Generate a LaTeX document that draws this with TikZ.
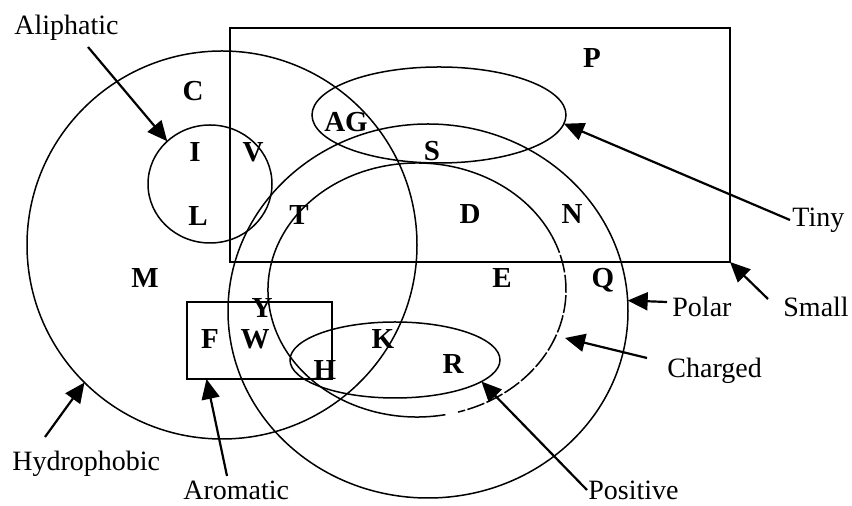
\documentclass[tikz,border=0pt]{standalone}
\usepackage{fontspec}
\setmainfont{Liberation Serif}
\usetikzlibrary{shapes.geometric,arrows.meta}
\begin{document}
\begin{tikzpicture}[x=0.5pt,y=-0.5pt,
  shapeline/.style={draw, line width=0.75pt, inner sep=0pt, outer sep=0pt},
  oval/.style={shapeline, ellipse},
  box/.style={shapeline, rectangle},
  letter/.style={font=\fontsize{14.5}{16}\selectfont\bfseries, inner sep=0pt},
  labeltext/.style={font=\fontsize{14}{16}\selectfont, inner sep=0pt, anchor=base west},
  pointer/.style={line width=1.1pt, -{Triangle[length=10pt,width=9pt]}}]
\useasboundingbox (0,0) rectangle (852,506);

% sets
\node[box, minimum width=250pt, minimum height=117pt] (small) at (480,145) {};
\node[box, minimum width=72.5pt, minimum height=38.5pt] (aro) at (259.5,340.5) {};
\node[oval, minimum width=195pt, minimum height=194pt] (hyd) at (222,245) {};
\node[oval, minimum width=62pt, minimum height=59pt] (aliph) at (210,184) {};
\node[oval, minimum width=127pt, minimum height=48pt] (tiny) at (439,115) {};
\node[oval, minimum width=200pt, minimum height=187pt] (polar) at (428,311) {};
\node[oval, draw=none, minimum width=149pt, minimum height=127pt] (charged) at (417,290) {};
\node[oval, minimum width=105pt, minimum height=38pt] (pos) at (395,360) {};

% charged outline: solid part, dashed lower right, small gap at bottom
\draw[line width=0.75pt] (charged.center) ++(79:149 and 127) arc[start angle=79, end angle=335, x radius=149, y radius=127];
\draw[line width=0.75pt, dash pattern=on 9pt off 1.2pt] (charged.center) ++(-25:149 and 127) arc[start angle=-25, end angle=74, x radius=149, y radius=127];

% letters
\node[letter] (lC) at (193,91) {C};
\node[letter] (lI) at (195,152) {I};
\node[letter] (lV) at (253,152) {V};
\node[letter] (lL) at (198,216) {L};
\node[letter] (lAG) at (346,122) {AG};
\node[letter] (lS) at (432,151) {S};
\node[letter] (lP) at (592,58) {P};
\node[letter] (lT) at (299,215) {T};
\node[letter] (lD) at (470,214) {D};
\node[letter] (lN) at (572,214) {N};
\node[letter] (lM) at (145,278) {M};
\node[letter] (lE) at (502,278) {E};
\node[letter] (lQ) at (603,280) {Q};
\node[letter] (lY) at (262,308) {Y};
\node[letter] (lF) at (210,339) {F};
\node[letter] (lW) at (255,339) {W};
\node[letter] (lK) at (383,339) {K};
\node[letter] (lH) at (325,370) {H};
\node[letter] (lR) at (453,364) {R};

% labels
\node[labeltext] (tAliph) at (14,35) {Aliphatic};
\node[labeltext] (tTiny) at (792,227) {Tiny};
\node[labeltext] (tSmall) at (783,317) {Small};
\node[labeltext] (tPolar) at (672,317) {Polar};
\node[labeltext] (tCharged) at (667,378) {Charged};
\node[labeltext] (tPos) at (588,500) {Positive};
\node[labeltext] (tAro) at (183,500) {Aromatic};
\node[labeltext] (tHyd) at (12,471) {Hydrophobic};

% connector tails
\coordinate (sAliph) at (88,47);
\coordinate (sTiny) at (790,220);
\coordinate (sSmall) at (768,299);
\coordinate (sPolar) at (667,302);
\coordinate (sCharged) at (647,358);
\coordinate (sPos) at (587,490);
\coordinate (sAro) at (227,476);
\coordinate (sHyd) at (45,437);
\coordinate (cTip) at (565,338);

\draw[pointer] (sAliph) -- (aliph.135);
\draw[pointer] (sTiny) -- (tiny.-4);
\draw[pointer] (sSmall) -- (small.south east);
\draw[pointer] (sPolar) -- (polar.3);
\draw[pointer] (sCharged) -- (cTip);
\draw[pointer] (sPos) -- (pos.-14.5);
\draw[pointer] (sAro) -- (aro.216);
\draw[pointer] (sHyd) -- (hyd.225);
\end{tikzpicture}
\end{document}
